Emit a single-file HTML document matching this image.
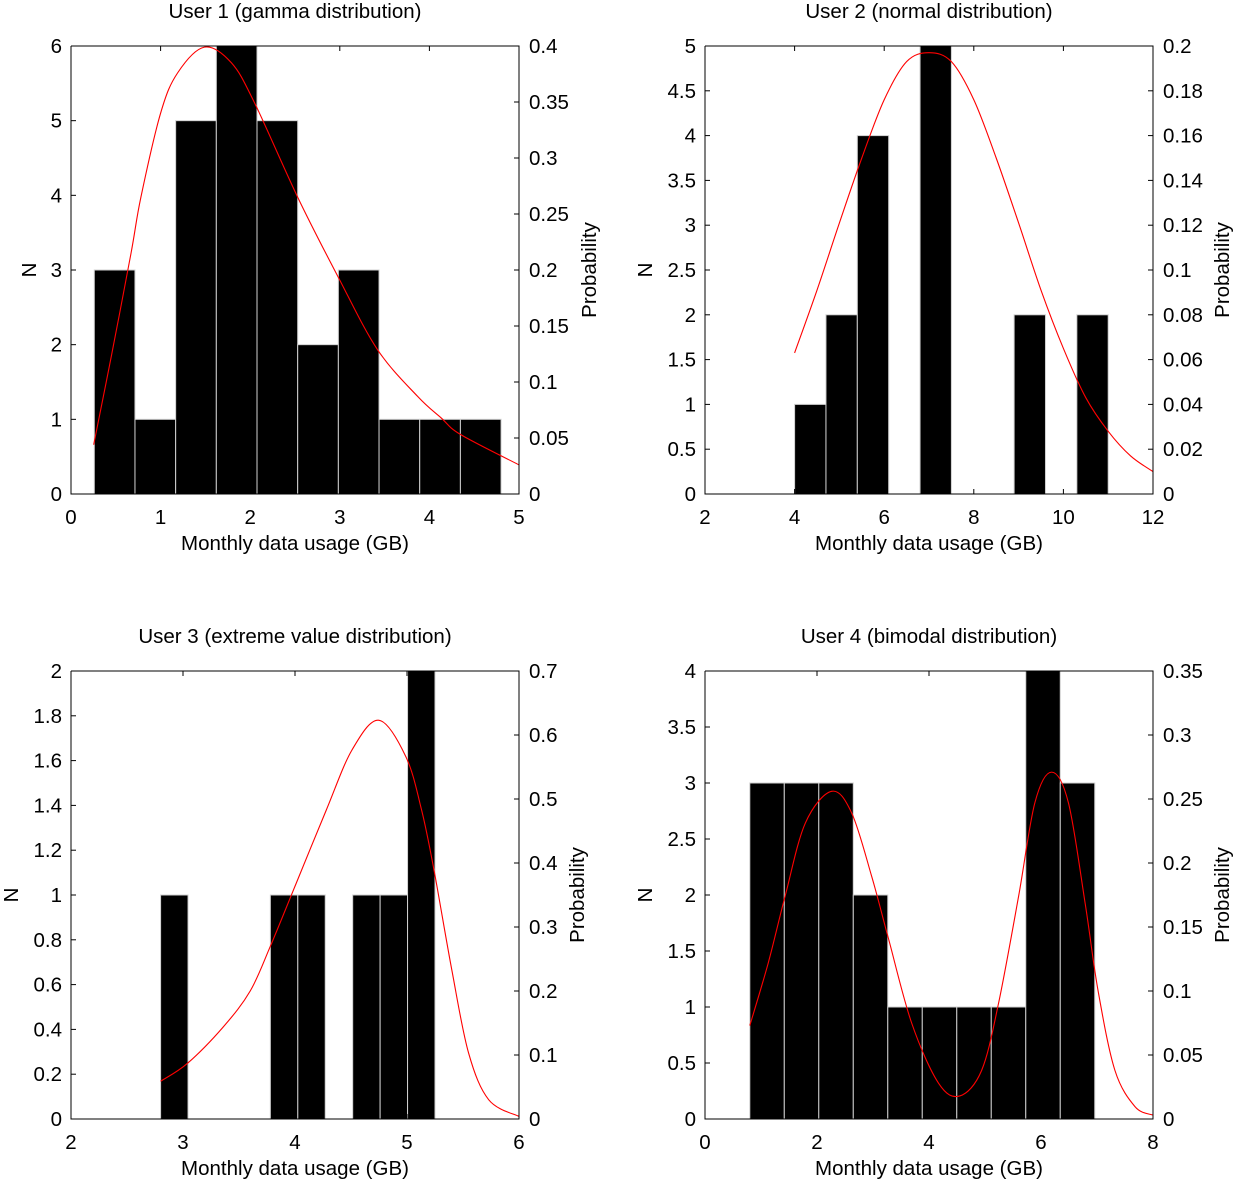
<!DOCTYPE html>
<html><head><meta charset="utf-8">
<style>
html,body{margin:0;padding:0;background:#fff;}
svg{display:block;font-family:"Liberation Sans",Arial,sans-serif;}
</style></head>
<body>
<svg id="chart" width="1238" height="1184" viewBox="0 0 1238 1184" xmlns="http://www.w3.org/2000/svg"></svg>
<script>
// ---- Panel 1 data (gamma) ----
const p1Counts = [3,1,5,6,5,2,3,1,1,1];
const p1Edges = [0.26,0.714,1.168,1.622,2.076,2.53,2.984,3.438,3.892,4.346,4.8];
const p1CurveX = [0.253,0.45,0.67,0.78,1.0,1.19,1.49,1.79,2.05,2.53,2.98,3.42,3.87,4.13,4.35,5.0];
const p1CurveY = [0.044,0.123,0.215,0.265,0.34,0.376,0.399,0.385,0.349,0.265,0.194,0.129,0.087,0.068,0.053,0.026];
const p1XTicks = [0,1,2,3,4,5];
const p1YTicks = [0,1,2,3,4,5,6];
const p1RTicks = ["0","0.05","0.1","0.15","0.2","0.25","0.3","0.35","0.4"];

// ---- Panel 2 data (normal) ----
const p2Counts = [1,2,4,0,5,0,0,2,0,2];
const p2Edges = [4.0,4.7,5.4,6.1,6.8,7.5,8.2,8.9,9.6,10.3,11.0];
const p2CurveX = [4,4.5,5,5.5,6,6.5,7,7.5,8,8.5,9,9.5,10,10.5,11,11.5,12];
const p2CurveY = [0.063,0.091,0.121,0.150,0.176,0.193,0.197,0.193,0.176,0.150,0.121,0.091,0.065,0.043,0.028,0.017,0.010];
const p2XTicks = [2,4,6,8,10,12];
const p2YTicks = ["0","0.5","1","1.5","2","2.5","3","3.5","4","4.5","5"];
const p2RTicks = ["0","0.02","0.04","0.06","0.08","0.1","0.12","0.14","0.16","0.18","0.2"];

// ---- Panel 3 data (extreme value) ----
const p3Counts = [1,0,0,0,1,1,0,1,1,2];
const p3Edges = [2.8,3.045,3.29,3.535,3.78,4.025,4.27,4.515,4.76,5.005,5.25];
const p3CurveX = [2.8,3.04,3.36,3.6,3.78,4.01,4.28,4.51,4.75,4.99,5.13,5.24,5.4,5.55,5.73,6.0];
const p3CurveY = [0.059,0.087,0.144,0.2,0.27,0.368,0.483,0.577,0.623,0.566,0.483,0.39,0.233,0.103,0.03,0.004];
const p3XTicks = [2,3,4,5,6];
const p3YTicks = ["0","0.2","0.4","0.6","0.8","1","1.2","1.4","1.6","1.8","2"];
const p3RTicks = ["0","0.1","0.2","0.3","0.4","0.5","0.6","0.7"];

// ---- Panel 4 data (bimodal) ----
const p4Counts = [3,3,3,2,1,1,1,1,4,3];
const p4Edges = [0.8,1.416,2.032,2.648,3.264,3.88,4.496,5.112,5.728,6.344,6.96];
const p4CurveX = [0.8,1.13,1.43,1.79,2.26,2.62,2.98,3.27,3.69,4.17,4.55,4.94,5.24,5.6,5.89,6.19,6.49,6.79,7.02,7.32,7.68,8.0];
const p4CurveY = [0.073,0.122,0.174,0.231,0.256,0.239,0.189,0.142,0.075,0.028,0.018,0.038,0.09,0.174,0.247,0.271,0.247,0.168,0.1,0.038,0.0096,0.003];
const p4XTicks = [0,2,4,6,8];
const p4YTicks = ["0","0.5","1","1.5","2","2.5","3","3.5","4"];
const p4RTicks = ["0","0.05","0.1","0.15","0.2","0.25","0.3","0.35"];

const svg = document.getElementById('chart');
const NS = 'http://www.w3.org/2000/svg';
const FS = 20.5;
function mk(tag, attrs, parent){
  const e = document.createElementNS(NS, tag);
  for (const k in attrs) e.setAttribute(k, attrs[k]);
  (parent||svg).appendChild(e);
  return e;
}
function txt(s, attrs, parent){ const t = mk('text', attrs, parent); t.textContent = s; return t; }
function smooth(pts){
  let d = 'M'+pts[0][0].toFixed(2)+','+pts[0][1].toFixed(2);
  for (let i=0;i<pts.length-1;i++){
    const p0=pts[Math.max(0,i-1)], p1=pts[i], p2=pts[i+1], p3=pts[Math.min(pts.length-1,i+2)];
    const c1=[p1[0]+(p2[0]-p0[0])/6, p1[1]+(p2[1]-p0[1])/6];
    const c2=[p2[0]-(p3[0]-p1[0])/6, p2[1]-(p3[1]-p1[1])/6];
    d += ` C${c1[0].toFixed(2)},${c1[1].toFixed(2)} ${c2[0].toFixed(2)},${c2[1].toFixed(2)} ${p2[0].toFixed(2)},${p2[1].toFixed(2)}`;
  }
  return d;
}

function panel(cfg){
  const g = mk('g', {});
  
  
  const L=cfg.x0, R=cfg.x0+448, T=cfg.y0, B=cfg.y0+448;
  const xs = v => L + (v-cfg.xmin)/(cfg.xmax-cfg.xmin)*448;
  const ys = v => B - v/cfg.ymax*448;
  const rs = v => B - v/cfg.rmax*448;
  cfg.counts.forEach((c,i)=>{
    if (c<=0) return;
    const x1=xs(cfg.edges[i]), x2=xs(cfg.edges[i+1]);
    const r = mk('rect',{x:x1,y:ys(c),width:x2-x1,height:B-ys(c),fill:'#000',stroke:'#d0d0d0','stroke-width':1},g);
    
    
  });
  const pts = cfg.cx.map((v,i)=>[xs(v), rs(cfg.cy[i])]);
  const p = mk('path',{d:smooth(pts),fill:'none',stroke:'#ff0000','stroke-width':1.1},g);
  
  
  const ax = mk('path',{d:`M${L},${T} L${L},${B} L${R},${B} L${R},${T} L${L},${T}`,fill:'none',stroke:'#000','stroke-width':1},g);
  
  
  cfg.xticks.forEach(v=>{
    const x=xs(v);
    mk('line',{x1:x,y1:B,x2:x,y2:B-5,stroke:'#000'},g);
    mk('line',{x1:x,y1:T,x2:x,y2:T+5,stroke:'#000'},g);
    const t = txt(String(v),{x:x,y:B+30,'font-size':FS,'text-anchor':'middle'},g);
    
    
  });
  cfg.yticks.forEach(s=>{
    const y=ys(parseFloat(s));
    mk('line',{x1:L,y1:y,x2:L+5,y2:y,stroke:'#000'},g);
    const t = txt(s,{x:L-9,y:y+7,'font-size':FS,'text-anchor':'end'},g);
    
    
  });
  cfg.rticks.forEach(s=>{
    const y=rs(parseFloat(s));
    mk('line',{x1:R,y1:y,x2:R-5,y2:y,stroke:'#000'},g);
    const t = txt(s,{x:R+10,y:y+7,'font-size':FS,'text-anchor':'start'},g);
    
    
  });
  const tt = txt(cfg.title,{x:(L+R)/2,y:T-28,'font-size':FS,'text-anchor':'middle'},g);
  
  
  const xl = txt('Monthly data usage (GB)',{x:(L+R)/2,y:B+56,'font-size':FS,'text-anchor':'middle'},g);
  
  
  const yl = txt('N',{x:0,y:0,'font-size':FS,'text-anchor':'middle',transform:`translate(${cfg.nx},${(T+B)/2}) rotate(-90)`},g);
  
  
  const rl = txt('Probability',{x:0,y:0,'font-size':FS,'text-anchor':'middle',transform:`translate(${cfg.px},${(T+B)/2}) rotate(-90)`},g);
  
  
}

panel({name:'user1-panel',title:'User 1 (gamma distribution)',x0:71,y0:46,xmin:0,xmax:5,ymax:6,rmax:0.4,
  counts:p1Counts,edges:p1Edges,cx:p1CurveX,cy:p1CurveY,xticks:p1XTicks,yticks:p1YTicks.map(String),rticks:p1RTicks,nx:36,px:596});
panel({name:'user2-panel',title:'User 2 (normal distribution)',x0:705,y0:46,xmin:2,xmax:12,ymax:5,rmax:0.2,
  counts:p2Counts,edges:p2Edges,cx:p2CurveX,cy:p2CurveY,xticks:p2XTicks,yticks:p2YTicks,rticks:p2RTicks,nx:652,px:1229});
panel({name:'user3-panel',title:'User 3 (extreme value distribution)',x0:71,y0:671,xmin:2,xmax:6,ymax:2,rmax:0.7,
  counts:p3Counts,edges:p3Edges,cx:p3CurveX,cy:p3CurveY,xticks:p3XTicks,yticks:p3YTicks,rticks:p3RTicks,nx:18,px:584});
panel({name:'user4-panel',title:'User 4 (bimodal distribution)',x0:705,y0:671,xmin:0,xmax:8,ymax:4,rmax:0.35,
  counts:p4Counts,edges:p4Edges,cx:p4CurveX,cy:p4CurveY,xticks:p4XTicks,yticks:p4YTicks,rticks:p4RTicks,nx:652,px:1229});
</script>
</body></html>
